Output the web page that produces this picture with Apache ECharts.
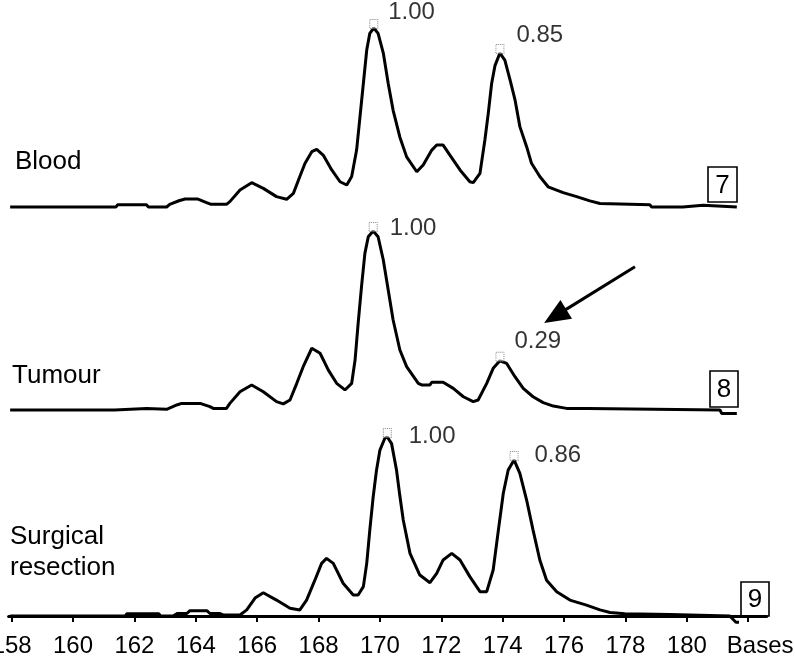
<!DOCTYPE html>
<html><head><meta charset="utf-8">
<script src="https://cdn.jsdelivr.net/npm/echarts@6/dist/echarts.min.js"></script>
<style>html,body{margin:0;padding:0;background:#fff}#c{width:795px;height:657px}</style>
</head><body><div id="c"></div>
<script>
// ---- data ----
const tickValues = [158,160,162,164,166,168,170,172,174,176,178,180,182];
const tickLabels = ['158','160','162','164','166','168','170','172','174','176','178','180','Bases'];
const sampleNames = ['Blood','Tumour','Surgical','resection'];
const laneNumbers = ['7','8','9'];

const blood = [[157.95,0],[161.4,0],[161.45,0.012],[162.4,0.012],[162.45,0],[163.05,0],[163.15,0.015],[163.45,0.035],[163.65,0.045],[164.05,0.045],[164.35,0.025],[164.5,0.015],[165.0,0.015],[165.11,0.03],[165.44,0.095],[165.82,0.136],[166.2,0.104],[166.63,0.058],[166.96,0.043],[167.18,0.076],[167.39,0.17],[167.56,0.244],[167.78,0.309],[167.94,0.322],[168.15,0.29],[168.43,0.207],[168.7,0.141],[168.92,0.123],[169.08,0.17],[169.24,0.318],[169.35,0.504],[169.46,0.69],[169.57,0.877],[169.67,0.97],[169.8,1.0],[169.94,0.97],[170.11,0.86],[170.27,0.69],[170.43,0.54],[170.65,0.39],[170.87,0.28],[171.2,0.197],[171.41,0.235],[171.69,0.318],[171.85,0.346],[172.06,0.346],[172.28,0.29],[172.61,0.207],[172.93,0.141],[173.04,0.136],[173.26,0.188],[173.42,0.374],[173.53,0.523],[173.64,0.69],[173.75,0.79],[173.91,0.86],[174.07,0.82],[174.24,0.71],[174.4,0.6],[174.56,0.449],[174.78,0.337],[174.94,0.244],[175.21,0.17],[175.48,0.113],[175.97,0.08],[176.41,0.058],[176.84,0.034],[177.17,0.02],[177.2,0.012],[178.8,0.012],[178.85,0],[179.87,0],[179.9,0.01],[180.53,0.01],[180.56,0],[181.63,0]];

const tumour = [[157.95,0],[161.35,0],[161.4,0.008],[162.4,0.008],[162.45,0],[163.05,0.004],[163.38,0.028],[163.54,0.037],[164.14,0.037],[164.46,0.019],[164.57,0.009],[165.0,0.009],[165.11,0.037],[165.44,0.102],[165.82,0.14],[166.2,0.102],[166.63,0.047],[166.85,0.034],[167.07,0.056],[167.29,0.149],[167.5,0.242],[167.78,0.345],[168.05,0.317],[168.32,0.223],[168.59,0.149],[168.86,0.112],[169.08,0.149],[169.19,0.279],[169.29,0.484],[169.4,0.689],[169.51,0.875],[169.62,0.968],[169.78,1.0],[169.94,0.968],[170.11,0.838],[170.27,0.67],[170.43,0.503],[170.65,0.335],[170.87,0.242],[171.25,0.149],[171.36,0.14],[171.63,0.14],[171.69,0.155],[172.06,0.155],[172.39,0.121],[172.72,0.074],[173.04,0.047],[173.2,0.056],[173.48,0.149],[173.69,0.233],[173.91,0.275],[174.13,0.26],[174.4,0.186],[174.67,0.121],[174.99,0.074],[175.32,0.041],[175.65,0.022],[176.08,0.009],[176.78,0.009],[176.82,0],[181.08,0],[181.14,-0.02],[181.63,-0.02]];

const surgical = [[157.95,0],[161.7,0],[161.75,0.012],[162.8,0.012],[162.85,0],[163.26,0],[163.39,0.014],[163.71,0.014],[163.81,0.03],[164.36,0.03],[164.46,0.014],[164.79,0.014],[164.89,0.006],[165.44,0.006],[165.66,0.034],[165.93,0.1],[166.2,0.13],[166.63,0.089],[167.07,0.043],[167.39,0.034],[167.61,0.089],[167.88,0.2],[168.1,0.294],[168.26,0.322],[168.48,0.294],[168.8,0.183],[169.13,0.117],[169.29,0.117],[169.46,0.164],[169.57,0.294],[169.67,0.48],[169.78,0.666],[169.89,0.816],[170.0,0.927],[170.16,0.993],[170.24,1.0],[170.38,0.963],[170.54,0.816],[170.65,0.67],[170.76,0.536],[170.98,0.35],[171.3,0.229],[171.63,0.186],[171.85,0.238],[172.06,0.313],[172.34,0.35],[172.61,0.313],[172.93,0.22],[173.26,0.136],[173.48,0.136],[173.69,0.257],[173.86,0.48],[174.02,0.686],[174.18,0.816],[174.37,0.872],[174.56,0.797],[174.78,0.648],[174.99,0.48],[175.21,0.313],[175.43,0.2],[175.76,0.136],[176.19,0.089],[176.73,0.061],[177.17,0.034],[177.5,0.02],[177.98,0.012],[179.45,0.008],[179.5,0],[181.4,0],[181.6,-0.035],[181.7,-0.035]];

const bloodPeakX = [169.8, 173.91];
const bloodPeakY = [1.0, 0.86];
const bloodPeakText = ['1.00', '0.85'];
const tumourPeakX = [169.78, 173.91];
const tumourPeakY = [1.0, 0.275];
const tumourPeakText = ['1.00', '0.29'];
const surgicalPeakX = [170.24, 174.37];
const surgicalPeakY = [1.0, 0.872];
const surgicalPeakText = ['1.00', '0.86'];

// ---- layout / style ----
const FONT = 'Liberation Sans, Arial, Helvetica, sans-serif';
const gridTops = [28, 231, 437];
const GH = 179;
const XMIN = 157.9, XMAX = 182.6;
// label placement (distance from marker, [dx,dy]) per peak
const labelLayout = [
  [[10,-12],[12,-14]],
  [[12,1],[10,-15]],
  [[17,3],[16,-1]]
];

const chart = echarts.init(document.getElementById('c'), null, {renderer:'canvas'});

const grids = gridTops.map(t => ({left: 8.6, right: 28.4, top: t, height: GH, containLabel:false, outerBoundsMode:'none'}));
const xAxes = gridTops.map((t, i) => {
  const base = {type:'value', gridIndex:i, min:XMIN, max:XMAX, splitLine:{show:false}};
  if (i < 2) return Object.assign(base, {show:false});
  return Object.assign(base, {
    offset: 7,
    axisLine:{show:true, lineStyle:{color:'#000', width:3}},
    axisTick:{show:true, customValues: tickValues, length:6, lineStyle:{color:'#000', width:2}},
    axisLabel:{
      show:true, customValues: tickValues, margin: 11, hideOverlap:false,
      color:'#000', fontFamily: FONT, fontSize: 24,
      formatter: v => {
        const idx = tickValues.indexOf(v);
        const s = idx >= 0 ? tickLabels[idx] : '';
        return idx === tickValues.length - 1 ? '{b|' + s + '}' : s;
      },
      rich: { b: {fontFamily: FONT, fontSize: 24, color:'#000', padding:[0,0,0,24]} }
    }
  });
});
const yAxes = gridTops.map((t, i) => ({type:'value', gridIndex:i, min:0, max:1, show:false, splitLine:{show:false}}));

const traces = [blood, tumour, surgical];
const peaks = [
  [bloodPeakX, bloodPeakY, bloodPeakText],
  [tumourPeakX, tumourPeakY, tumourPeakText],
  [surgicalPeakX, surgicalPeakY, surgicalPeakText]
];

const series = [];
traces.forEach((d, i) => {
  series.push({
    type:'line', xAxisIndex:i, yAxisIndex:i, data:d, symbol:'none', clip:false,
    lineStyle:{color:'#000', width:3}, animation:false, z:3
  });
  const [px, py, pt] = peaks[i];
  series.push({
    type:'scatter', xAxisIndex:i, yAxisIndex:i, clip:false, animation:false, z:4,
    symbol:'rect', symbolSize:[8,9], symbolOffset:[0,-4],
    itemStyle:{color:'rgba(255,255,255,0.6)', borderColor:'#666', borderWidth:1, borderType:'dotted'},
    data: px.map((x, k) => ({
      value:[x, py[k]],
      label:{show:true, position:'right', distance: labelLayout[i][k][0], offset:[0, labelLayout[i][k][1]],
        formatter: pt[k], color:'#000', fontFamily: FONT, fontSize: 24}
    }))
  });
});

chart.setOption({
  animation:false,
  backgroundColor:'#fff',
  grid: grids, xAxis: xAxes, yAxis: yAxes, series: series
});

// annotations: sample names, lane boxes, arrow
const textStyle = (s, x, y) => ({type:'text', x, y, style:{text:s, fill:'#000', font:'26px ' + FONT, textVerticalAlign:'middle', textAlign:'left'}});
const boxes = [[708,167,29,35],[710,371,28,36],[741,582,28,34]];
const graphics = [
  textStyle(sampleNames[0], 15, 162),
  textStyle(sampleNames[1], 12, 376),
  textStyle(sampleNames[2], 10, 537),
  textStyle(sampleNames[3], 10, 568)
];
boxes.forEach((b, i) => {
  graphics.push({type:'rect', shape:{x:b[0], y:b[1], width:b[2], height:b[3]}, style:{fill:'#fff', stroke:'#000', lineWidth:1.6}});
  graphics.push({type:'text', x:b[0]+b[2]/2, y:b[1]+b[3]/2+1, style:{text:laneNumbers[i], fill:'#000', font:'26px ' + FONT, textAlign:'center', textVerticalAlign:'middle'}});
});
// arrow pointing at the reduced 174 peak of the tumour trace
const aFrom = chart.convertToPixel({xAxisIndex:1, yAxisIndex:1}, [178.31, 0.80]);
const aTip = chart.convertToPixel({xAxisIndex:1, yAxisIndex:1}, [175.35, 0.486]);
const dx = aTip[0]-aFrom[0], dy = aTip[1]-aFrom[1], L = Math.hypot(dx, dy);
const ux = dx/L, uy = dy/L, headLen = 26, headHalf = 11;
const bx = aTip[0]-ux*headLen, by = aTip[1]-uy*headLen;
graphics.push({type:'line', shape:{x1:aFrom[0], y1:aFrom[1], x2:bx+ux*2, y2:by+uy*2}, style:{stroke:'#000', lineWidth:3}});
graphics.push({type:'polygon', shape:{points:[[aTip[0],aTip[1]],[bx-uy*headHalf, by+ux*headHalf],[bx+uy*headHalf, by-ux*headHalf]]}, style:{fill:'#000'}});
chart.setOption({graphic: graphics});
</script></body></html>
